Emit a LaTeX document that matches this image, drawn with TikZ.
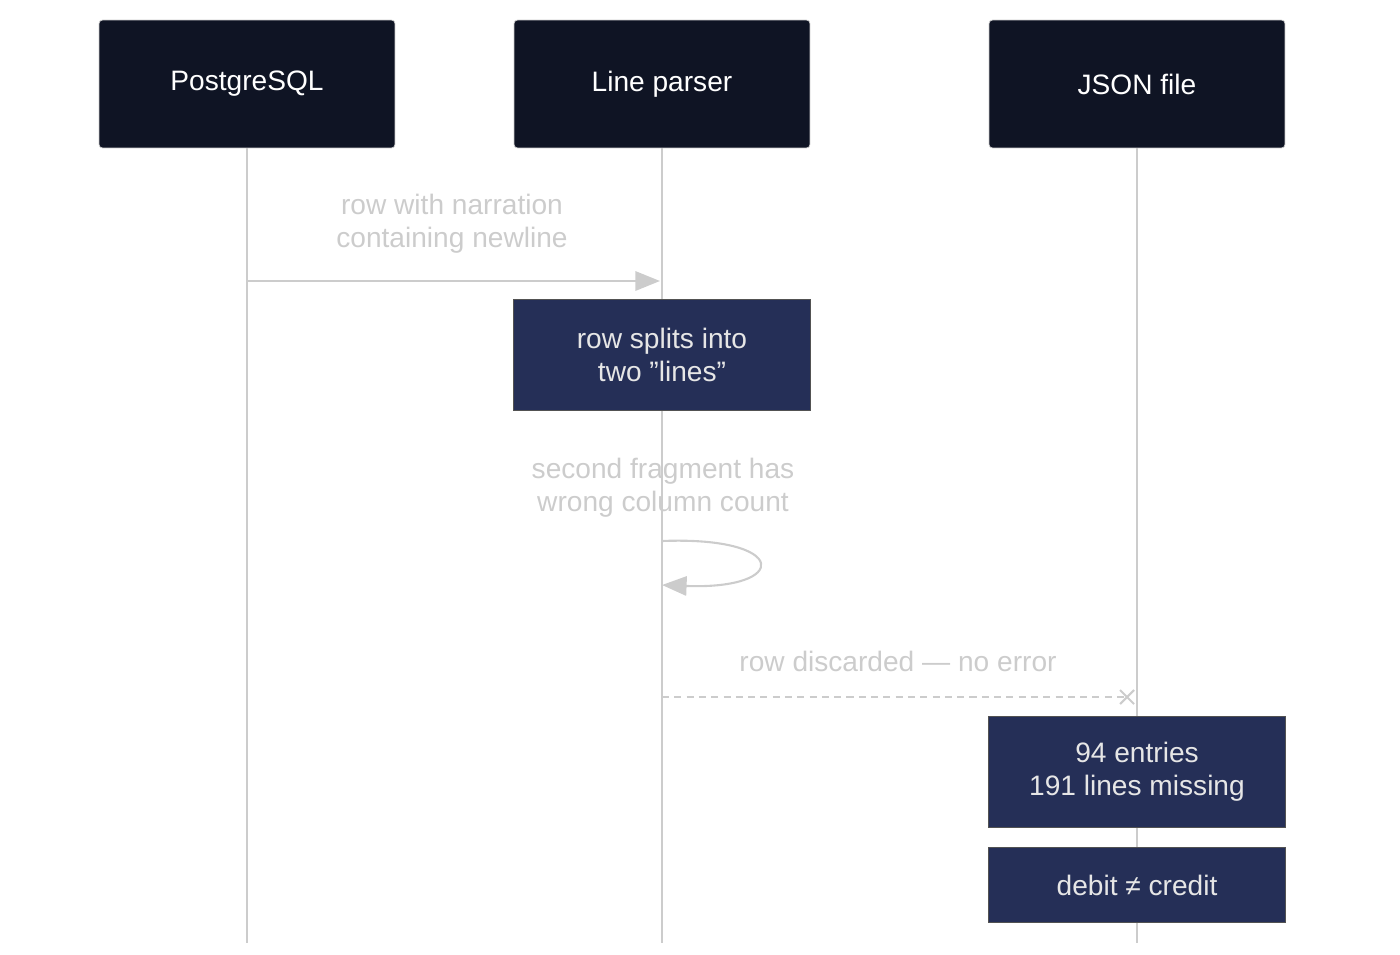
\documentclass[tikz,border=0pt]{standalone}
\usepackage{fontspec}
\setmainfont{Liberation Sans}
\usetikzlibrary{arrows.meta,calc}
\definecolor{actorbg}{HTML}{0F1424}
\definecolor{notebg}{HTML}{252F57}
\definecolor{linegray}{HTML}{CCCCCC}
\definecolor{notetext}{HTML}{E6E6E6}
\tikzset{
  actor/.style={draw=linegray, fill=actorbg, text=white, rounded corners=2pt,
    minimum width=5.92cm, minimum height=2.56cm, font=\fontsize{16}{19}\selectfont},
  note/.style={draw=linegray!40!black, fill=notebg, text=notetext, align=center,
    minimum width=5.94cm, font=\fontsize{16}{19}\selectfont},
  life/.style={linegray, line width=1.2pt},
  msg/.style={linegray, line width=1.2pt},
  msglabel/.style={text=linegray, align=center, font=\fontsize{16}{19}\selectfont}
}
\begin{document}
\begin{tikzpicture}[x=0.02cm, y=-0.02cm]
\useasboundingbox (0,0) rectangle (1400,954);

% participants
\node[actor] (pg) at (247,84) {PostgreSQL};
\node[actor] (lp) at (662,84) {Line parser};
\node[actor] (js) at (1137,84) {JSON file};

% lifelines
\coordinate (pgend) at (247,943);
\coordinate (lpend) at (662,943);
\coordinate (jsend) at (1137,943);
\draw[life] (pg.south) -- (pgend);
\draw[life] (lp.south) -- (lpend);
\draw[life] (js.south) -- (jsend);

% row with newline
\coordinate (m1a) at (247,281);
\coordinate (m1b) at (660,281);
\draw[msg, -{Triangle[length=14pt,width=11pt]}] (m1a) -- (m1b);
\node[msglabel] (m1l) at (452,224) {row with narration\\containing newline};

\node[note, minimum height=2.22cm] (split) at (662,355) {row splits into\\two "lines"};

% self message
\node[msglabel] (m2l) at (663,488) {second fragment has\\wrong column count};
\coordinate (m2a) at (662,541);
\coordinate (m2b) at (662,585);
\draw[msg, -{Triangle[length=14pt,width=11pt]}] (m2a) .. controls (790,536) and (790,590) .. (m2b);

% discarded
\node[msglabel] (m3l) at (898,661) {row discarded — no error};
\coordinate (m3a) at (662,697);
\coordinate (m3b) at (1127,697);
\draw[msg, dashed, dash pattern=on 4pt off 3pt] (m3a) -- (m3b);
\draw[msg] ($(m3b)+(-7,-7)$) -- ($(m3b)+(7,7)$) ($(m3b)+(-7,7)$) -- ($(m3b)+(7,-7)$);

\node[note, minimum height=2.22cm] (count) at (1137,772) {94 entries\\191 lines missing};
\node[note, minimum height=1.5cm] (bal) at (1137,885) {debit ≠ credit};
\end{tikzpicture}
\end{document}
